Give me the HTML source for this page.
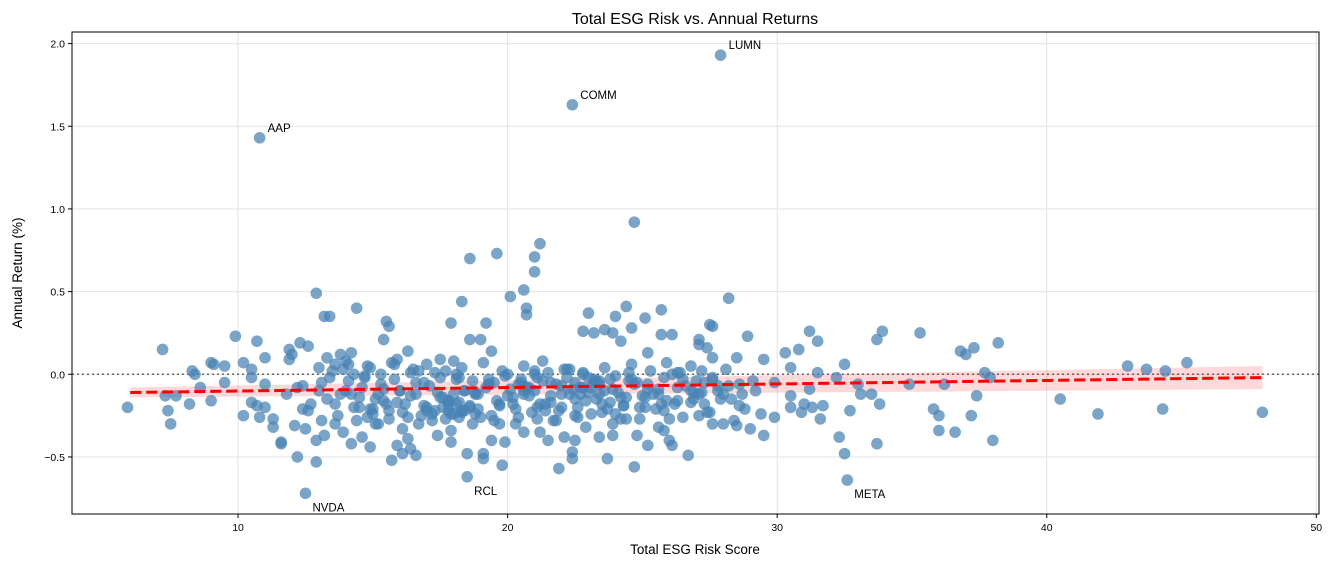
<!DOCTYPE html>
<html><head><meta charset="utf-8"><style>
body{margin:0;background:#fff;font-family:"Liberation Sans","DejaVu Sans",sans-serif}
svg text{font-family:"Liberation Sans","DejaVu Sans",sans-serif}
</style></head><body>
<svg id="chart" width="1333" height="566" viewBox="0 0 1333 566" xmlns="http://www.w3.org/2000/svg">
<g id="grid"></g>
<g id="band"></g>
<g id="pts"></g>
<g id="trend"></g>
<g id="ann"></g>
<g id="axes"></g>
<text x="695" y="24" text-anchor="middle" font-size="16">Total ESG Risk vs. Annual Returns</text>
<text x="695" y="554" text-anchor="middle" font-size="13.5">Total ESG Risk Score</text>
<text x="22" y="273" text-anchor="middle" font-size="13.5" transform="rotate(-90 22 273)">Annual Return (%)</text>
</svg>
<script>
const xTicks=[10,20,30,40,50];
const yTicks=[-0.5,0.0,0.5,1.0,1.5,2.0];
const yTickLabels=["−0.5","0.0","0.5","1.0","1.5","2.0"];
const trendX=[6,48];
const trendY=[-0.11,-0.02];
const bandLow=[-0.14,-0.09];
const bandHigh=[-0.08,0.05];
const annotations=[["LUMN",27.9,1.93],["COMM",22.4,1.63],["AAP",10.8,1.43],["NVDA",12.5,-0.72],["RCL",18.5,-0.62],["META",32.6,-0.64]];
const pointsX=[27.9,22.4,10.8,12.5,18.5,32.6,24.7,21.2,19.6,18.6,21.0,21.0,20.6,20.1,28.2,18.3,14.4,20.7,20.7,25.7,24.4,12.9,13.2,13.4,15.5,15.6,19.2,17.9,23.0,25.1,27.5,27.6,31.2,33.9,35.3,33.7,31.5,30.3,30.8,38.2,37.3,36.8,37.0,37.7,37.9,38.0,37.2,37.4,36.2,35.8,36.0,36.0,36.6,34.9,33.7,33.8,33.5,33.1,33.0,32.7,32.5,32.3,32.5,32.2,40.5,41.9,43.0,43.7,44.4,44.3,45.2,48.0,5.9,7.2,7.3,7.4,7.5,7.7,8.2,8.3,8.4,8.6,9.0,9.1,9.0,9.5,9.5,9.9,10.2,10.2,10.5,10.5,10.7,11.0,11.0,10.5,10.7,10.8,11.0,11.3,11.3,11.6,11.6,11.9,11.9,12.0,12.3,12.2,12.1,12.5,12.6,12.4,12.7,12.9,12.9,13.2,13.0,13.3,13.6,13.8,13.9,14.2,14.2,14.5,14.6,14.9,15.0,15.1,15.4,15.7,15.9,16.1,16.3,16.4,16.6,16.3,16.7,17.0,17.4,17.5,17.9,18.0,18.5,18.6,19.0,19.1,19.1,19.4,19.4,19.8,19.9,20.3,20.6,21.2,21.5,21.9,22.1,22.4,22.4,22.5,23.4,23.7,23.9,24.4,24.7,24.8,25.2,25.6,25.8,26.0,26.1,26.7,26.1,25.7,24.0,24.2,23.2,22.8,23.6,23.9,24.6,25.2,27.1,27.1,27.4,27.6,28.5,28.9,29.5,29.4,29.5,29.9,29.0,28.5,28.0,27.6,27.1,30.5,30.5,30.9,31.2,31.3,31.6,31.7,31.5,31.0,29.9,30.5,
13.1,13.5,13.8,14.0,14.3,14.6,14.8,15.1,15.3,15.6,15.8,16.0,16.2,16.5,16.8,17.1,17.3,17.6,17.8,18.1,18.3,18.6,18.8,19.1,19.3,19.6,19.8,20.1,20.3,20.6,20.8,21.1,21.3,21.6,21.8,22.1,22.3,22.6,22.8,23.1,23.3,23.6,23.8,24.1,24.3,24.6,24.8,25.1,25.3,25.6,25.8,26.1,26.3,26.6,26.8,27.1,27.3,27.6,27.8,28.1,28.3,28.6,28.8,29.1,
13.3,13.7,14.1,14.4,14.7,15.2,15.5,15.9,16.3,16.6,17.0,17.2,17.7,18.0,18.2,18.4,18.7,19.0,19.5,19.7,20.0,20.4,20.7,21.0,21.4,21.7,22.0,22.2,22.5,22.9,23.2,23.5,23.9,24.2,24.5,24.9,25.2,25.5,25.9,26.2,26.5,26.9,27.2,27.5,27.9,28.2,28.4,28.7,
12.2,12.6,13.0,13.4,13.9,14.3,14.8,15.2,15.7,16.1,16.6,17.0,17.5,17.9,18.4,18.8,19.3,19.7,20.2,20.6,21.1,21.5,22.0,22.4,22.9,23.3,23.8,24.2,24.7,25.1,25.6,26.0,26.5,26.9,27.4,27.8,
11.8,12.4,13.1,13.6,14.2,14.9,15.4,16.0,16.7,17.3,17.8,18.2,18.9,19.5,20.0,20.5,21.2,21.8,22.3,22.7,23.4,24.0,24.5,25.0,25.7,26.3,26.8,27.3,28.0,28.6,29.2,
17.6,17.9,18.1,18.4,18.2,17.8,18.0,18.6,22.5,22.8,23.0,23.4,23.6,22.7,23.2,20.4,20.8,21.3,21.0,20.6,
13.6,14.0,14.5,15.0,15.4,15.9,16.4,16.9,17.4,17.8,18.3,18.8,19.2,19.7,20.2,20.6,21.1,21.6,22.0,22.5,23.0,23.5,23.9,24.4,24.9,25.4,25.9,26.3,26.8,27.2,
14.1,14.7,15.3,15.8,16.4,16.9,17.5,18.1,18.7,19.3,19.9,20.5,21.0,21.6,22.2,22.8,23.4,24.0,24.6,25.2,25.8,26.4,27.0,27.6,
17.2,17.7,18.3,18.9,19.4,21.9,22.6,23.1,23.7,24.3,20.9,21.4,16.1,15.6,14.9];
const pointsY=[1.93,1.63,1.43,-0.72,-0.62,-0.64,0.92,0.79,0.73,0.70,0.71,0.62,0.51,0.47,0.46,0.44,0.40,0.40,0.36,0.39,0.41,0.49,0.35,0.35,0.32,0.29,0.31,0.31,0.37,0.34,0.30,0.29,0.26,0.26,0.25,0.21,0.20,0.13,0.15,0.19,0.16,0.14,0.12,0.01,-0.02,-0.40,-0.25,-0.13,-0.06,-0.21,-0.25,-0.34,-0.35,-0.06,-0.42,-0.18,-0.12,-0.12,-0.06,-0.22,-0.48,-0.38,0.06,-0.02,-0.15,-0.24,0.05,0.03,0.02,-0.21,0.07,-0.23,-0.20,0.15,-0.13,-0.22,-0.30,-0.13,-0.18,0.02,0.00,-0.08,0.07,0.06,-0.16,-0.05,0.05,0.23,0.07,-0.25,-0.02,0.03,0.20,0.10,-0.06,-0.17,-0.19,-0.26,-0.20,-0.27,-0.32,-0.41,-0.42,0.15,0.09,0.12,0.19,-0.50,-0.31,-0.33,0.17,-0.21,-0.18,-0.53,-0.40,-0.37,0.04,0.10,-0.30,0.12,0.03,0.13,-0.42,-0.20,-0.38,-0.44,-0.24,-0.30,0.21,-0.52,-0.43,-0.48,-0.39,-0.45,-0.49,0.14,-0.30,0.06,-0.37,0.09,-0.41,0.08,-0.48,0.21,0.21,-0.48,-0.51,0.14,-0.40,-0.55,-0.41,-0.30,-0.35,-0.35,-0.40,-0.57,-0.38,-0.47,-0.51,-0.40,-0.38,-0.51,-0.37,-0.27,-0.56,-0.37,-0.43,-0.32,-0.34,-0.40,-0.43,-0.49,0.24,0.24,0.35,0.20,0.25,0.26,0.27,0.25,0.28,0.13,0.21,0.18,0.16,0.10,0.10,0.23,0.09,-0.24,-0.37,-0.26,-0.33,-0.31,-0.30,-0.30,-0.25,-0.20,-0.13,-0.23,-0.09,-0.20,-0.27,-0.19,0.01,-0.18,-0.05,0.04,
-0.05,0.02,-0.12,0.08,-0.20,-0.08,0.05,-0.15,0.00,-0.22,0.06,-0.10,-0.18,0.03,-0.25,-0.07,0.01,-0.14,-0.22,-0.03,0.04,-0.19,-0.11,0.07,-0.06,-0.16,0.02,-0.09,-0.21,0.05,-0.13,-0.02,0.08,-0.17,-0.06,0.03,-0.12,-0.20,0.01,-0.08,-0.15,0.04,-0.03,-0.11,-0.19,0.06,-0.05,-0.14,0.02,-0.09,-0.22,0.00,-0.16,-0.07,0.05,-0.12,-0.18,-0.02,-0.10,0.03,-0.15,-0.06,-0.21,-0.04,
-0.15,-0.25,0.06,-0.28,-0.02,-0.30,-0.18,0.09,-0.26,-0.12,-0.20,-0.28,0.02,-0.24,-0.17,-0.10,-0.30,-0.26,-0.05,-0.18,-0.13,-0.26,-0.08,0.00,-0.22,-0.28,-0.12,0.03,-0.25,-0.16,-0.05,-0.23,-0.30,-0.14,0.01,-0.27,-0.09,-0.21,0.07,-0.18,-0.26,-0.11,0.02,-0.23,-0.15,-0.07,-0.28,-0.12,
-0.08,-0.22,-0.10,-0.02,-0.35,0.00,-0.26,-0.12,0.07,-0.33,-0.05,-0.22,-0.14,-0.34,-0.10,-0.24,-0.03,-0.30,-0.18,-0.07,-0.27,0.01,-0.20,-0.09,-0.32,-0.04,-0.17,-0.27,-0.06,-0.20,-0.12,-0.27,-0.03,-0.15,-0.23,-0.07,
-0.12,-0.07,-0.28,0.06,-0.12,0.04,-0.16,-0.10,0.02,-0.22,-0.18,-0.02,-0.12,-0.28,0.00,-0.05,-0.18,-0.28,0.03,-0.08,-0.12,-0.24,-0.04,-0.13,-0.18,0.01,-0.10,-0.05,-0.12,-0.19,-0.10,
-0.20,-0.24,-0.18,-0.22,-0.26,-0.16,-0.12,-0.20,-0.05,-0.08,-0.02,-0.06,-0.10,-0.12,-0.03,-0.06,-0.08,-0.04,-0.10,-0.12,
-0.18,-0.10,-0.14,-0.21,-0.09,-0.17,-0.13,-0.19,-0.11,-0.16,-0.22,-0.12,-0.08,-0.19,-0.14,-0.10,-0.20,-0.13,-0.07,-0.15,-0.11,-0.18,-0.09,-0.14,-0.20,-0.12,-0.16,-0.08,-0.17,-0.11,
-0.04,-0.01,-0.06,-0.03,0.01,-0.05,-0.02,0.00,-0.04,-0.06,-0.01,-0.03,0.02,-0.05,-0.02,0.00,-0.04,-0.01,-0.03,-0.06,-0.02,0.01,-0.04,-0.03,
-0.24,-0.27,-0.23,-0.21,-0.25,-0.22,-0.26,-0.24,-0.21,-0.19,-0.23,-0.18,-0.23,-0.27,-0.21];

const NS="http://www.w3.org/2000/svg";
const L=72,R=1319,T=32,B=514;
const xMin=3.84,xMax=50.1,yMin=-0.845,yMax=2.07;
const sx=v=>L+(v-xMin)/(xMax-xMin)*(R-L);
const sy=v=>B-(v-yMin)/(yMax-yMin)*(B-T);
function mk(tag,attrs,parent){const e=document.createElementNS(NS,tag);for(const k in attrs)e.setAttribute(k,attrs[k]);parent.appendChild(e);return e;}
const grid=document.getElementById('grid'),axes=document.getElementById('axes');
xTicks.forEach(t=>{const x=sx(t);
 const g=mk('line',{x1:x,x2:x,y1:T,y2:B,stroke:'#e3e3e3','stroke-width':1},grid);
 
 mk('line',{x1:x,x2:x,y1:B,y2:B+4,stroke:'#000'},axes);
 const tx=mk('text',{x:x,y:B+17,'text-anchor':'middle','font-size':10.5},axes);tx.textContent=t;
 });
yTicks.forEach((t,i)=>{const y=sy(t);
 const g=mk('line',{x1:L,x2:R,y1:y,y2:y,stroke:'#e3e3e3','stroke-width':1},grid);
 
 mk('line',{x1:L-4,x2:L,y1:y,y2:y,stroke:'#000'},axes);
 const tx=mk('text',{x:L-7,y:y+4,'text-anchor':'end','font-size':10.5},axes);tx.textContent=yTickLabels[i];
 });
const frame=mk('rect',{x:L,y:T,width:R-L,height:B-T,fill:'none',stroke:'#000','stroke-width':1},axes);

const zl=mk('line',{x1:L,x2:R,y1:sy(0),y2:sy(0),stroke:'#666','stroke-width':1.5,'stroke-dasharray':'2,3'},grid);

const band=mk('polygon',{points:`${sx(trendX[0])},${sy(bandHigh[0])} ${sx(trendX[1])},${sy(bandHigh[1])} ${sx(trendX[1])},${sy(bandLow[1])} ${sx(trendX[0])},${sy(bandLow[0])}`,fill:'rgba(255,0,0,0.15)'},document.getElementById('band'));

const pg=document.getElementById('pts');
pointsX.forEach((x,i)=>{const c=mk('circle',{cx:sx(x),cy:sy(pointsY[i]),r:5.8,fill:'rgba(70,130,180,0.72)'},pg);
 });
const tl=mk('line',{x1:sx(trendX[0]),y1:sy(trendY[0]),x2:sx(trendX[1]),y2:sy(trendY[1]),stroke:'#ff0000','stroke-width':3,'stroke-dasharray':'11,5'},document.getElementById('trend'));

const ag=document.getElementById('ann');
annotations.forEach(a=>{const neg=a[2]<0;const t=mk('text',{x:sx(a[1])+(neg?7:8),y:sy(a[2])+(neg?18:-6),'font-size':11.5},ag);t.textContent=a[0];
 });
</script>
</body></html>
